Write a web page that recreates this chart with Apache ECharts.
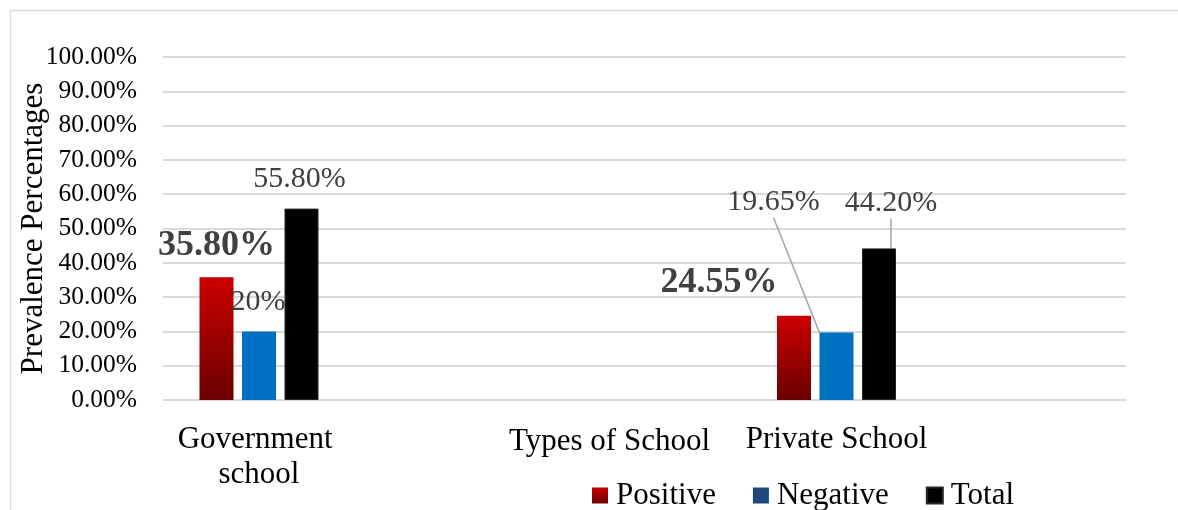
<!DOCTYPE html>
<html>
<head>
<meta charset="utf-8">
<script src="https://cdn.jsdelivr.net/npm/echarts@6/dist/echarts.min.js"></script>
<style>
html,body{margin:0;padding:0;background:#fff;}
#chart{width:1178px;height:510px;}
</style>
</head>
<body>
<div id="chart"></div>
<script>
// ---- data ----
const categories = ['Government school', 'Private School'];
const seriesNames = ['Positive', 'Negative', 'Total'];
const positive = [35.80, 24.55];
const negative = [20.00, 19.65];
const total = [55.80, 44.20];
const positiveLabels = ['35.80%', '24.55%'];
const negativeLabels = ['20%', '19.65%'];
const totalLabels = ['55.80%', '44.20%'];
const yTicks = [0, 10, 20, 30, 40, 50, 60, 70, 80, 90, 100];

const FONT = "'Liberation Serif', 'Times New Roman', serif";
const chart = echarts.init(document.getElementById('chart'), null, {renderer: 'canvas'});

const redGrad = new echarts.graphic.LinearGradient(0, 0, 0, 1, [
  {offset: 0, color: '#cc0000'},
  {offset: 1, color: '#6a0000'}
]);

// label layout offsets (dx, dy) per series / data item
const labelShift = [
  [[0, -9], [-75, -10]],
  [[-1, -9], [-63, -110]],
  [[-2, -9], [12, -25]]
];
const leaderShown = [[false, false], [false, true], [false, true]];

function makeData(values, labels, sIdx, bold) {
  return values.map((v, i) => ({
    value: v,
    label: {
      formatter: labels[i],
      fontSize: bold ? 36 : 30,
      fontWeight: bold ? 'bold' : 'normal'
    },
    labelLine: {show: leaderShown[sIdx][i]}
  }));
}

const commonLabel = {
  show: true,
  position: 'top',
  color: '#404040',
  fontFamily: FONT
};

const option = {
  animation: false,
  backgroundColor: '#ffffff',
  graphic: [
    {
      type: 'rect',
      left: 8, top: 8,
      shape: {width: 1300, height: 700},
      style: {fill: 'none', stroke: '#d9d9d9', lineWidth: 1.5},
      silent: true, z: -10
    },
    {
      type: 'text',
      left: 509, top: 426,
      style: {text: 'Types of School', font: '31px ' + FONT, fill: '#000000'}
    }
  ],
  legend: {
    left: 592,
    top: 480,
    padding: 0,
    itemWidth: 16,
    itemHeight: 16,
    itemGap: 37,
    icon: 'rect',
    textStyle: {fontFamily: FONT, fontSize: 31, color: '#000000', padding: [0, 0, 0, 3]},
    data: [
      {name: seriesNames[0]},
      {name: seriesNames[1], itemStyle: {color: '#1f497d'}},
      {name: seriesNames[2]}
    ]
  },
  grid: [
    {left: 163, right: 52, top: 57, bottom: 110, containLabel: false},
    {left: 259, right: 341.5, top: 57, bottom: 110, containLabel: false}
  ],
  xAxis: [
    {
      gridIndex: 0, type: 'category', data: categories, show: false
    },
    {
      gridIndex: 1, type: 'category', data: categories, boundaryGap: false,
      axisLine: {show: false}, axisTick: {show: false}, splitLine: {show: false},
      axisLabel: {
        margin: 22, fontFamily: FONT, fontSize: 31, lineHeight: 35, color: '#000000',
        width: 210, overflow: 'break', interval: 0
      }
    }
  ],
  yAxis: [
    {
      gridIndex: 0, type: 'value', min: yTicks[0], max: yTicks[yTicks.length - 1], interval: 10,
      name: 'Prevalence Percentages', nameLocation: 'middle', nameGap: 114,
      nameMoveOverlap: false,
      nameTextStyle: {fontFamily: FONT, fontSize: 31, color: '#000000'},
      axisLine: {show: false}, axisTick: {show: false},
      splitLine: {show: true, lineStyle: {color: '#d9d9d9', width: 2}},
      axisLabel: {
        margin: 26, fontFamily: FONT, fontSize: 25.5, color: '#000000',
        formatter: v => v.toFixed(2) + '%'
      }
    },
    {
      gridIndex: 1, type: 'value', min: yTicks[0], max: yTicks[yTicks.length - 1], interval: 10,
      show: false, splitLine: {show: false}
    }
  ],
  series: [
    {
      name: seriesNames[0], type: 'bar', xAxisIndex: 1, yAxisIndex: 1,
      barWidth: 34, barGap: '25%',
      itemStyle: {color: redGrad},
      label: commonLabel,
      data: makeData(positive, positiveLabels, 0, true)
    },
    {
      name: seriesNames[1], type: 'bar', xAxisIndex: 1, yAxisIndex: 1,
      barWidth: 34, barGap: '25%',
      itemStyle: {color: '#0070c0'},
      label: commonLabel,
      labelLine: {show: false, lineStyle: {color: '#a6a6a6', width: 1.5}},
      data: makeData(negative, negativeLabels, 1, false)
    },
    {
      name: seriesNames[2], type: 'bar', xAxisIndex: 1, yAxisIndex: 1,
      barWidth: 34, barGap: '25%',
      itemStyle: {color: '#000000', borderColor: '#262626', borderWidth: 1},
      label: commonLabel,
      labelLine: {show: false, lineStyle: {color: '#a6a6a6', width: 1.5}},
      data: makeData(total, totalLabels, 2, false)
    }
  ],
  labelLayout: function (params) {
    const s = labelShift[params.seriesIndex];
    if (!s) return {};
    const d = s[params.dataIndex];
    return {dx: d[0], dy: d[1]};
  }
};

// apply labelLayout per series
option.series.forEach(s => { s.labelLayout = option.labelLayout; });
delete option.labelLayout;

chart.setOption(option);
</script>
</body>
</html>
